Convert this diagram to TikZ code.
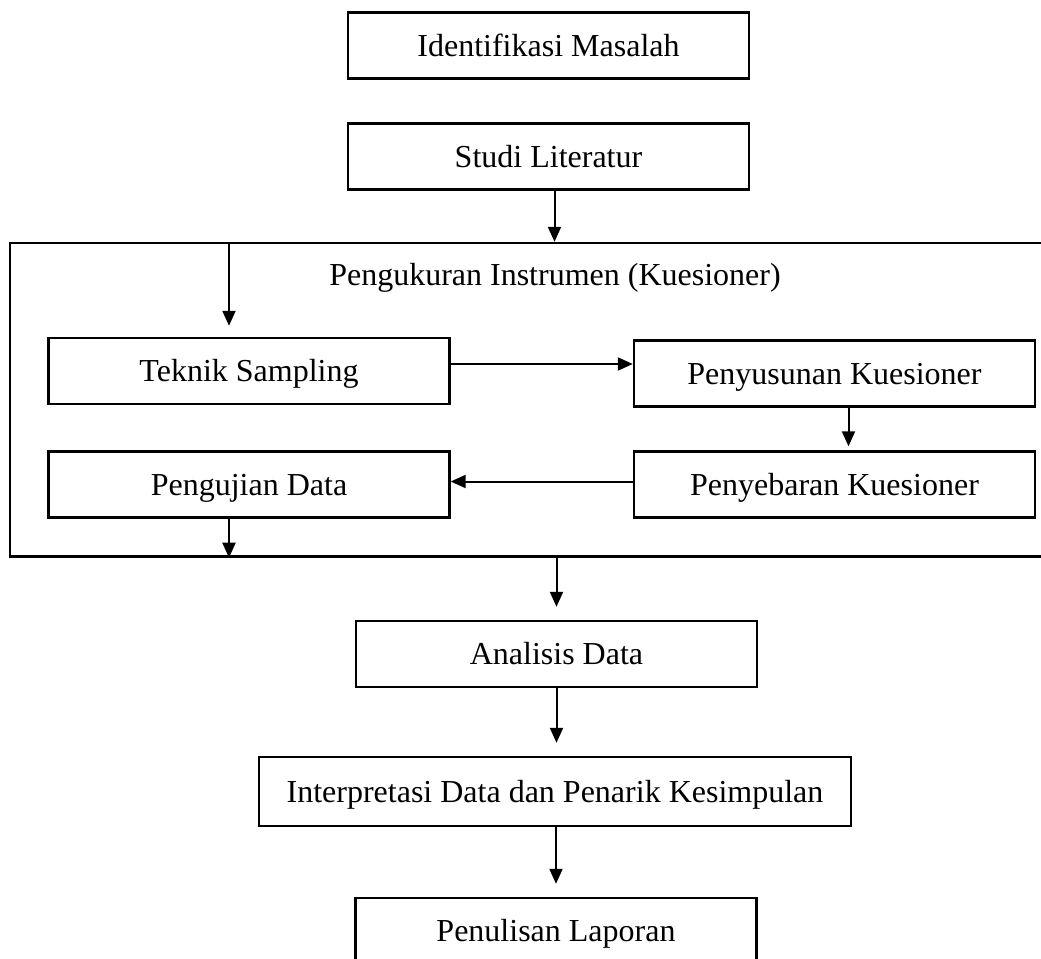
\documentclass[tikz,border=0pt]{standalone}
\usepackage{fontspec}
\setmainfont{Liberation Serif}
\usetikzlibrary{positioning, arrows.meta, calc}
\tikzstyle{arrow} = [line width=1pt, black, -{Triangle[length=7.5pt,width=6.5pt]}]
\tikzstyle{box} = [draw, rectangle, line width=1.2pt, minimum width=200.5pt, minimum height=33pt, inner sep=0pt, text height=10.6pt, text depth=0pt]

\begin{document}
\begin{tikzpicture}[x=0.5pt, y=-0.5pt, font=\fontsize{16}{19}\selectfont]
    % Alur penelitian
    \useasboundingbox (0,0) rectangle (1041,959);

    \node[box] (ident) at (548.5,45.5) {Identifikasi Masalah};
    \node[box] (studi) at (548.5,156.5) {Studi Literatur};

    \node[draw, rectangle, line width=1.2pt, minimum width=518pt, minimum height=156.75pt] (frame) at (528,399.75) {};
    \node[text height=10.6pt, text depth=0pt] (ukur) at (555,275) {Pengukuran Instrumen (Kuesioner)};

    \node[box] (teknik) at (249,371) {Teknik Sampling};
    \node[box] (susun) at (834.5,373.5) {Penyusunan Kuesioner};
    \node[box] (sebar) at (834.5,484.5) {Penyebaran Kuesioner};
    \node[box] (uji) at (249,484.5) {Pengujian Data};

    \node[box] (analisis) at (556.5,654) {Analisis Data};
    \node[box, minimum width=296pt, minimum height=34.5pt] (interp) at (555,791.5) {Interpretasi Data dan Penarik Kesimpulan};
    \node[box] (tulis) at (556,931) {Penulisan Laporan};

    \coordinate (masuk) at (229,243);

    \draw[arrow] ([xshift=3pt]studi.south) -- ([xshift=3pt]studi.south |- frame.north);
    \draw[arrow, shorten >=5.5pt] (masuk) -- (masuk |- teknik.north);
    \draw[arrow] ([yshift=3.5pt]teknik.east) -- ([yshift=3.5pt]teknik.east -| susun.west);
    \draw[arrow, shorten >=2pt] ([xshift=7pt]susun.south) -- ([xshift=7pt]sebar.north);
    \draw[arrow] ([yshift=1.5pt]sebar.west) -- ([yshift=1.5pt]sebar.west -| uji.east);
    \draw[arrow] (uji.south -| masuk) -- (frame.south -| masuk);
    \draw[arrow, shorten >=6.5pt] (frame.south -| analisis) -- (analisis.north);
    \draw[arrow, shorten >=6.5pt] (analisis.south) -- (analisis.south |- interp.north);
    \draw[arrow, shorten >=6.5pt] (tulis.north |- interp.south) -- (tulis.north);
\end{tikzpicture}
\end{document}
